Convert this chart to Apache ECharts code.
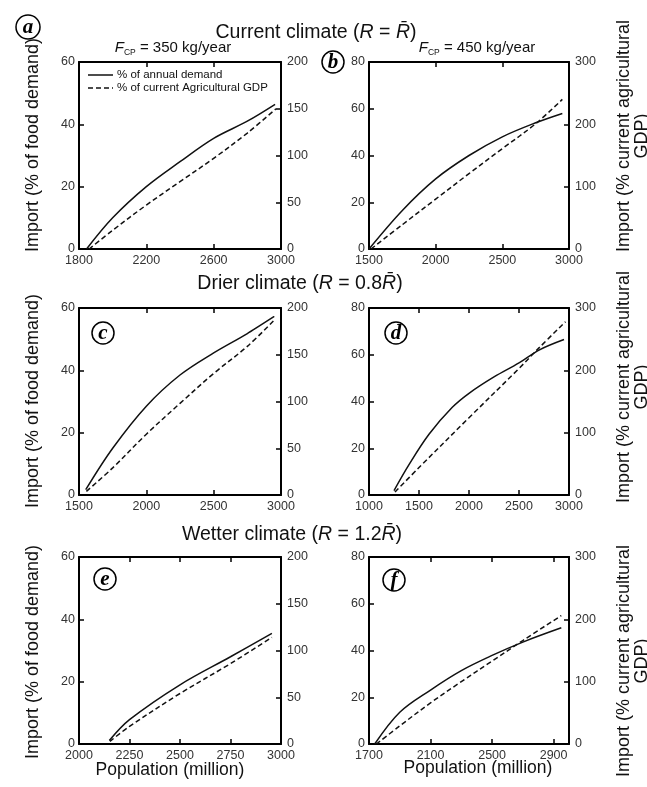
<!DOCTYPE html>
<html>
<head>
<meta charset="utf-8">
<script src="https://cdn.jsdelivr.net/npm/echarts@6/dist/echarts.min.js"></script>
<style>
  html, body { margin: 0; padding: 0; background: #fff; }
  #chart { width: 647px; height: 787px; }
</style>
</head>
<body>
<div id="chart"></div>
<script>
// Import needed vs. population, three rainfall scenarios x two F_CP levels.
// Solid: % of annual food demand (left axis); dashed: % of current agricultural GDP (right axis).

// (a) current climate, F_CP = 350
const popA = [1845, 2000, 2200, 2400, 2600, 2800, 2965];
const demandA = [0, 10, 20, 28, 35.5, 41, 46.4];
const popAg = [1860, 2000, 2200, 2400, 2600, 2800, 2970];
const gdpA = [0, 20, 47, 72, 97, 124, 150];

// (b) current climate, F_CP = 450
const popB = [1500, 1750, 2000, 2250, 2500, 2750, 2950];
const demandB = [0, 16.5, 30, 40, 48, 54, 58];
const popBg = [1515, 1750, 2000, 2250, 2500, 2750, 2950];
const gdpB = [0, 39, 80, 121, 161, 201, 240];

// (c) drier climate, F_CP = 350
const popC = [1550, 1750, 2000, 2250, 2500, 2750, 2950];
const demandC = [1.7, 15, 28.5, 38.5, 45.6, 51.8, 57.3];
const popCg = [1555, 1750, 2000, 2250, 2500, 2750, 2950];
const gdpC = [3.9, 29, 65, 98, 130, 159, 187];

// (d) drier climate, F_CP = 450
const popD = [1250, 1400, 1600, 1833, 2000, 2250, 2500, 2700, 2950];
const demandD = [1.9, 13, 26, 37.5, 43.5, 50.5, 56.5, 62, 66.5];
const popDg = [1260, 1500, 2000, 2500, 2700, 2965];
const gdpD = [4.8, 44, 124, 203, 236, 278];

// (e) wetter climate, F_CP = 350
const popE = [2150, 2250, 2500, 2750, 2955];
const demandE = [1.1, 7.8, 19, 28, 35.5];
const popEg = [2153, 2250, 2500, 2750, 2955];
const gdpE = [2.8, 18.8, 54, 86, 114];

// (f) wetter climate, F_CP = 450
const popF = [1737, 1900, 2100, 2300, 2500, 2700, 2950];
const demandF = [0, 13.6, 23.1, 31.4, 37.9, 43.6, 49.7];
const popFg = [1748, 1900, 2100, 2300, 2500, 2700, 2950];
const gdpF = [0, 29, 66, 100, 133, 166, 206];

// Tick positions
const xTicksA = [1800, 2200, 2600, 3000];
const xTicksB = [1500, 2000, 2500, 3000];
const xTicksC = [1500, 2000, 2500, 3000];
const xTicksD = [1000, 1500, 2000, 2500, 3000];
const xTicksE = [2000, 2250, 2500, 2750, 3000];
const xTicksF = [1700, 2100, 2500, 2900];

const SOLID_NAME = '% of annual demand';
const DASH_NAME = '% of current Agricultural GDP';
const FONT = '"Liberation Sans", Arial, sans-serif';

const panels = [
  { box: [79, 62, 202, 187], x: [1800, 3000], xt: xTicksA, yl: [60, 20], yr: [200, 50], s: [popA, demandA], d: [popAg, gdpA] },
  { box: [369, 62, 200, 187], x: [1500, 3000], xt: xTicksB, yl: [80, 20], yr: [300, 100], s: [popB, demandB], d: [popBg, gdpB] },
  { box: [79, 308, 202, 187], x: [1500, 3000], xt: xTicksC, yl: [60, 20], yr: [200, 50], s: [popC, demandC], d: [popCg, gdpC] },
  { box: [369, 308, 200, 187], x: [1000, 3000], xt: xTicksD, yl: [80, 20], yr: [300, 100], s: [popD, demandD], d: [popDg, gdpD] },
  { box: [79, 557, 202, 187], x: [2000, 3000], xt: xTicksE, yl: [60, 20], yr: [200, 50], s: [popE, demandE], d: [popEg, gdpE] },
  { box: [369, 557, 200, 187], x: [1700, 3000], xt: xTicksF, yl: [80, 20], yr: [300, 100], s: [popF, demandF], d: [popFg, gdpF] }
];

const frameLine = { show: true, onZero: false, lineStyle: { color: '#000', width: 2 } };
const labelStyle = { color: '#333', fontSize: 12.5, fontFamily: FONT };
const plain = v => String(v);

const grid = [], xAxis = [], yAxis = [], series = [];
const zip = (xs, ys) => xs.map((v, i) => [v, ys[i]]);

panels.forEach((p, i) => {
  grid.push({ left: p.box[0], top: p.box[1], width: p.box[2], height: p.box[3], containLabel: false });
  xAxis.push({
    type: 'value', gridIndex: i, position: 'bottom', min: p.x[0], max: p.x[1],
    axisLine: frameLine, splitLine: { show: false },
    axisTick: { show: true, inside: true, length: 5, customValues: p.xt, lineStyle: { color: '#000', width: 1.5 } },
    axisLabel: Object.assign({ margin: 5, customValues: p.xt, formatter: plain, showMinLabel: true, showMaxLabel: true }, labelStyle)
  });
  xAxis.push({
    type: 'value', gridIndex: i, position: 'top', min: p.x[0], max: p.x[1],
    axisLine: frameLine, splitLine: { show: false },
    axisTick: { show: true, inside: true, length: 5, customValues: p.xt, lineStyle: { color: '#000', width: 1.5 } },
    axisLabel: { show: false }
  });
  yAxis.push({
    type: 'value', gridIndex: i, position: 'left', min: 0, max: p.yl[0], interval: p.yl[1],
    axisLine: frameLine, splitLine: { show: false },
    axisTick: { show: true, inside: true, length: 5, lineStyle: { color: '#000', width: 1.5 } },
    axisLabel: Object.assign({ margin: 4, formatter: plain }, labelStyle)
  });
  yAxis.push({
    type: 'value', gridIndex: i, position: 'right', min: 0, max: p.yr[0], interval: p.yr[1],
    axisLine: frameLine, splitLine: { show: false },
    axisTick: { show: true, inside: true, length: 5, lineStyle: { color: '#000', width: 1.5 } },
    axisLabel: Object.assign({ margin: 6, formatter: plain }, labelStyle)
  });
  series.push({
    name: SOLID_NAME, type: 'line', xAxisIndex: 2 * i, yAxisIndex: 2 * i,
    data: zip(p.s[0], p.s[1]), symbol: 'none', smooth: 0.35, silent: true,
    lineStyle: { color: '#111', width: 1.5, type: 'solid' }, itemStyle: { color: '#111' }
  });
  series.push({
    name: DASH_NAME, type: 'line', xAxisIndex: 2 * i, yAxisIndex: 2 * i + 1,
    data: zip(p.d[0], p.d[1]), symbol: 'none', smooth: 0.35, silent: true,
    lineStyle: { color: '#111', width: 1.5, type: [5, 3] }, itemStyle: { color: '#111' }
  });
});

// Text helpers
function txt(x, y, text, font, extra) {
  return Object.assign({
    type: 'text', x: x, y: y, z: 100, silent: true,
    style: { text: text, font: font, fill: '#111', align: 'center', verticalAlign: 'middle' }
  }, extra || {});
}
function richTxt(x, y, text, rich) {
  return {
    type: 'text', x: x, y: y, z: 100, silent: true,
    style: { text: text, rich: rich, fill: '#111', align: 'center', verticalAlign: 'middle' }
  };
}
function badge(cx, cy, r, letter) {
  return {
    type: 'group', z: 110, silent: true,
    children: [
      { type: 'circle', shape: { cx: cx, cy: cy, r: r }, style: { fill: '#fff', stroke: '#000', lineWidth: 1.5 }, z: 110 },
      { type: 'text', x: cx, y: cy + 1, z: 111,
        style: { text: letter, font: 'italic bold 21px "Liberation Serif", "DejaVu Serif", serif', fill: '#000', align: 'center', verticalAlign: 'middle' } }
    ]
  };
}
// Legend key: sample line plus label
function legendRow(y, dash, label) {
  return {
    type: 'group', z: 100, silent: true,
    children: [
      { type: 'line', shape: { x1: 88, y1: y, x2: 113, y2: y }, style: { stroke: '#111', lineWidth: 1.5, lineDash: dash } },
      { type: 'text', x: 117, y: y, style: { text: label, font: '11.5px ' + FONT, fill: '#111', align: 'left', verticalAlign: 'middle' } }
    ]
  };
}

const titleRich = {
  n: { fontSize: 19.5, fontFamily: FONT, color: '#111' },
  i: { fontSize: 19.5, fontFamily: FONT, fontStyle: 'italic', color: '#111' }
};
const fcpRich = {
  n: { fontSize: 15, fontFamily: FONT, color: '#111', lineHeight: 18 },
  i: { fontSize: 15, fontFamily: FONT, fontStyle: 'italic', color: '#111', lineHeight: 18 },
  sub: { fontSize: 8.5, fontFamily: FONT, color: '#111', verticalAlign: 'bottom' }
};

const leftName = 'Import (% of food demand)';
const rightName = 'Import (% current agricultural\nGDP)';
const nameFont = '18px ' + FONT;

const graphic = [
  richTxt(316, 33, '{n|Current climate (}{i|R}{n| = }{i|R\u0304}{n|)}', titleRich),
  richTxt(300, 284, '{n|Drier climate (}{i|R}{n| = 0.8}{i|R\u0304}{n|)}', titleRich),
  richTxt(292, 535, '{n|Wetter climate (}{i|R}{n| = 1.2}{i|R\u0304}{n|)}', titleRich),
  richTxt(173, 48, '{i|F}{sub|CP}{n| = 350 kg/year}', fcpRich),
  richTxt(477, 48, '{i|F}{sub|CP}{n| = 450 kg/year}', fcpRich),

  legendRow(75, null, SOLID_NAME),
  legendRow(88, [5, 3], DASH_NAME),

  txt(33, 145, leftName, nameFont, { rotation: Math.PI / 2 }),
  txt(33, 401, leftName, nameFont, { rotation: Math.PI / 2 }),
  txt(33, 652, leftName, nameFont, { rotation: Math.PI / 2 }),
  txt(633, 136, rightName, nameFont, { rotation: Math.PI / 2 }),
  txt(633, 387, rightName, nameFont, { rotation: Math.PI / 2 }),
  txt(633, 661, rightName, nameFont, { rotation: Math.PI / 2 }),

  txt(170, 770, 'Population (million)', '17.5px ' + FONT),
  txt(478, 768, 'Population (million)', '17.5px ' + FONT),

  badge(28, 27, 12, 'a'),
  badge(333, 62, 11, 'b'),
  badge(103, 333, 11, 'c'),
  badge(396, 333, 11, 'd'),
  badge(105, 579, 11, 'e'),
  badge(394, 580, 11, 'f')
];

const chart = echarts.init(document.getElementById('chart'), null, { renderer: 'canvas' });
chart.setOption({
  backgroundColor: '#fff',
  animation: false,
  grid: grid,
  xAxis: xAxis,
  yAxis: yAxis,
  series: series,
  graphic: graphic
});
</script>
</body>
</html>
